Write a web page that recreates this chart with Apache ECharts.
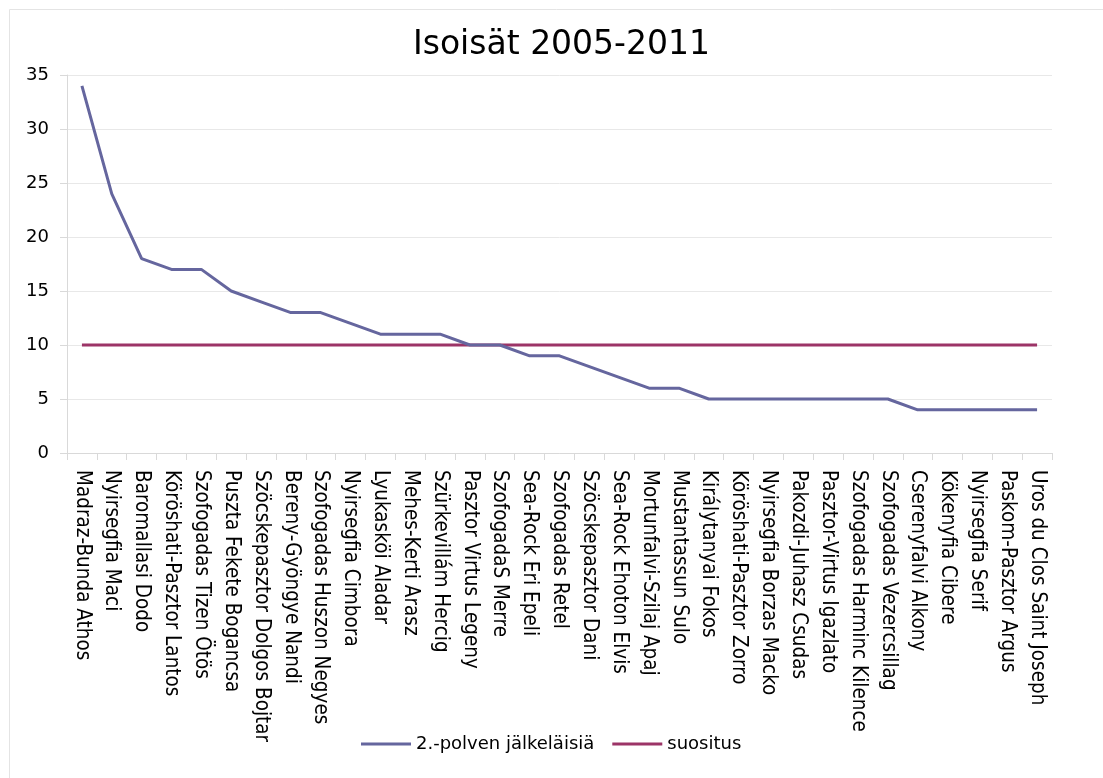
<!DOCTYPE html>
<html>
<head>
<meta charset="utf-8">
<script src="https://cdn.jsdelivr.net/npm/echarts@6/dist/echarts.min.js"></script>
<style>
html,body{margin:0;padding:0;background:#fff;}
#chart{width:1103px;height:778px;}
</style>
</head>
<body>
<div id="chart"></div>
<script>
const title = 'Isoisät 2005-2011';
const categories = [
  'Madraz-Bunda Athos','Nyirsegfia Maci','Baromallasi Dodo','Köröshati-Pasztor Lantos',
  'Szofogadas Tizen Ötös','Puszta Fekete Bogancsa','Szöcskepasztor Dolgos Bojtar',
  'Bereny-Gyöngye Nandi','Szofogadas Huszon Negyes','Nyirsegfia Cimbora','Lyukasköi Aladar',
  'Mehes-Kerti Arasz','Szürkevillám Hercig','Pasztor Virtus Legeny','SzofogadaS Merre',
  'Sea-Rock Eri Epeli','Szofogadas Retel','Szöcskepasztor Dani','Sea-Rock Ehoton Elvis',
  'Mortunfalvi-Szilaj Apaj','Mustantassun Sulo','Királytanyai Fokos','Köröshati-Pasztor Zorro',
  'Nyirsegfia Borzas Macko','Pakozdi-Juhasz Csudas','Pasztor-Virtus Igazlato',
  'Szofogadas Harminc Kilence','Szofogadas Vezercsillag','Cserenyfalvi Alkony',
  'Kökenyfia Cibere','Nyirsegfia Serif','Paskom-Pasztor Argus','Uros du Clos Saint Joseph'
];
const seriesNames = ['2.-polven jälkeläisiä', 'suositus'];
const offspring = [34,24,18,17,17,15,14,13,13,12,11,11,11,10,10,9,9,8,7,6,6,5,5,5,5,5,5,5,4,4,4,4,4];
const recommendation = [10,10,10,10,10,10,10,10,10,10,10,10,10,10,10,10,10,10,10,10,10,10,10,10,10,10,10,10,10,10,10,10,10];
const yTicks = {min: 0, max: 35, interval: 5};

const chart = echarts.init(document.getElementById('chart'), null, {renderer: 'canvas'});
const wideFont = '"DejaVu Sans", "Noto Sans", sans-serif';
const narrowFont = '"Liberation Sans Narrow", "DejaVu Sans Condensed", "Roboto", sans-serif';
chart.setOption({
  backgroundColor: '#ffffff',
  animation: false,
  graphic: [{
    type: 'rect', left: 7, top: 7, silent: true,
    shape: {width: 1200, height: 900},
    style: {fill: 'none', stroke: '#e4e4e4', lineWidth: 1}
  }],
  title: {
    text: title, left: 408, top: 24,
    textStyle: {fontFamily: wideFont, fontSize: 33, fontWeight: 'normal', color: '#000'}
  },
  legend: {
    bottom: 20, left: 356, itemWidth: 50, itemHeight: 3, itemGap: 18,
    icon: 'rect',
    textStyle: {fontFamily: wideFont, fontSize: 18, color: '#000'},
    data: seriesNames
  },
  grid: {left: 67, right: 51, top: 75, bottom: 325, containLabel: false},
  xAxis: {
    type: 'category', data: categories, boundaryGap: true,
    axisLine: {lineStyle: {color: '#d9d9d9'}},
    axisTick: {show: true, length: 7, alignWithLabel: false, lineStyle: {color: '#d9d9d9'}},
    axisLabel: {interval: 0, rotate: -90, margin: 17, fontFamily: narrowFont, fontSize: 20.5, color: '#000'}
  },
  yAxis: {
    type: 'value', min: yTicks.min, max: yTicks.max, interval: yTicks.interval,
    axisLine: {show: true, lineStyle: {color: '#d9d9d9'}},
    axisTick: {show: true, length: 7, lineStyle: {color: '#d9d9d9'}},
    axisLabel: {fontFamily: wideFont, fontSize: 18, color: '#000', margin: 18},
    splitLine: {lineStyle: {color: '#e8e8e8'}}
  },
  series: [
    {name: seriesNames[0], type: 'line', data: offspring, showSymbol: false, symbol: 'none',
     lineStyle: {width: 3, color: '#65669e'}, itemStyle: {color: '#65669e'}, z: 3},
    {name: seriesNames[1], type: 'line', data: recommendation, showSymbol: false, symbol: 'none',
     lineStyle: {width: 3, color: '#9c3467'}, itemStyle: {color: '#9c3467'}, z: 2}
  ]
});
</script>
</body>
</html>
